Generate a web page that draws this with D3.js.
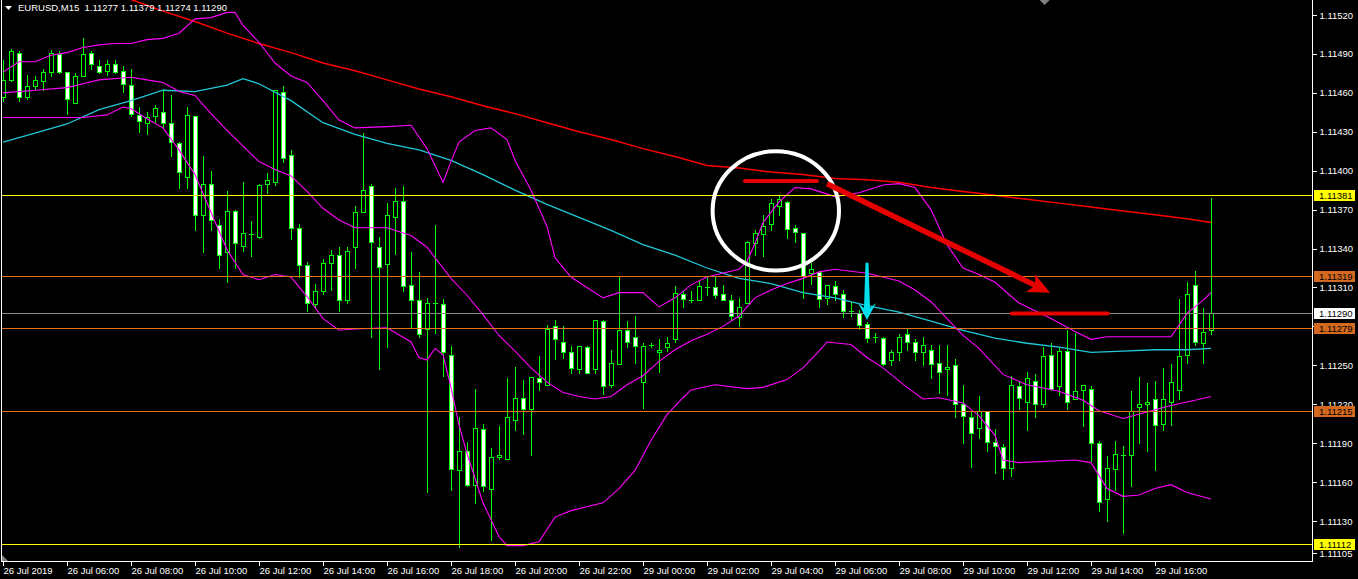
<!DOCTYPE html>
<html><head><meta charset="utf-8">
<script src="https://cdn.jsdelivr.net/npm/d3@7"></script>
<style>
html,body{margin:0;padding:0;background:#000;}
svg{display:block;}
text{font-family:"Liberation Sans",Arial,sans-serif;font-size:9.5px;}
</style></head><body>
<svg id="c" width="1358" height="579"></svg>
<script>
// ---------------- DATA ----------------
const symbolName = "EURUSD,M15";
const opens = [1.11457,1.11470,1.11491,1.11457,1.11465,1.11469,1.11476,1.11490,1.11476,1.11452,
1.11473,1.11491,1.11481,1.11477,1.11482,1.11477,1.11466,1.11443,1.11437,1.11442,
1.11445,1.11437,1.11421,1.11395,1.11442,1.11366,1.11390,1.11358,1.11337,1.11369,
1.11342,1.11351,1.11349,1.11390,1.11391,1.11461,1.11412,1.11356,1.11327,1.11297,
1.11307,1.11329,1.11335,1.11300,1.11341,1.11368,1.11388,1.11341,1.11328,1.11364,
1.11377,1.11312,1.11300,1.11278,1.11298,1.11297,1.11258,1.11169,1.11184,1.11158,
1.11201,1.11155,1.11179,1.11178,1.11208,1.11225,1.11216,1.11240,1.11235,1.11280,
1.11268,1.11260,1.11247,1.11264,1.11247,1.11284,1.11235,1.11251,1.11277,1.11272,
1.11237,1.11266,1.11260,1.11264,1.11270,1.11305,1.11300,1.11300,1.11310,1.11310,
1.11305,1.11300,1.11287,1.11298,1.11344,1.11351,1.11359,1.11373,1.11376,1.11356,
1.11352,1.11321,1.11322,1.11302,1.11311,1.11305,1.11292,1.11290,1.11282,1.11272,
1.11271,1.11254,1.11260,1.11274,1.11268,1.11260,1.11262,1.11252,1.11247,1.11250,
1.11220,1.11210,1.11202,1.11215,1.11191,1.11187,1.11171,1.11234,1.11222,1.11238,
1.11220,1.11258,1.11234,1.11261,1.11224,1.11231,1.11232,1.11190,1.11147,1.11170,
1.11181,1.11181,1.11218,1.11220,1.11224,1.11205,1.11222,1.11231,1.11258,1.11312,
1.11267,1.11277];
const highs = [1.11485,1.11494,1.11492,1.11474,1.11473,1.11478,1.11493,1.11492,1.11476,1.11475,
1.11502,1.11492,1.11485,1.11485,1.11485,1.11481,1.11478,1.11449,1.11445,1.11451,
1.11463,1.11458,1.11422,1.11449,1.11442,1.11411,1.11400,1.11363,1.11384,1.11370,
1.11391,1.11361,1.11390,1.11398,1.11462,1.11465,1.11416,1.11359,1.11330,1.11313,
1.11332,1.11339,1.11341,1.11341,1.11373,1.11429,1.11390,1.11349,1.11375,1.11387,
1.11388,1.11337,1.11322,1.11302,1.11358,1.11301,1.11265,1.11210,1.11191,1.11232,
1.11205,1.11186,1.11203,1.11240,1.11249,1.11239,1.11241,1.11257,1.11281,1.11285,
1.11280,1.11265,1.11265,1.11265,1.11285,1.11285,1.11262,1.11318,1.11284,1.11288,
1.11267,1.11267,1.11270,1.11272,1.11311,1.11307,1.11307,1.11315,1.11318,1.11318,
1.11312,1.11304,1.11302,1.11346,1.11354,1.11366,1.11378,1.11381,1.11377,1.11358,
1.11352,1.11329,1.11323,1.11312,1.11315,1.11308,1.11299,1.11293,1.11283,1.11275,
1.11272,1.11262,1.11274,1.11278,1.11270,1.11272,1.11266,1.11266,1.11266,1.11255,
1.11235,1.11215,1.11226,1.11215,1.11201,1.11189,1.11242,1.11238,1.11245,1.11243,
1.11264,1.11267,1.11264,1.11277,1.11275,1.11235,1.11234,1.11192,1.11180,1.11192,
1.11188,1.11230,1.11241,1.11236,1.11238,1.11248,1.11251,1.11301,1.11314,1.11323,
1.11294,1.11379];
const lows = [1.11454,1.11469,1.11454,1.11455,1.11463,1.11462,1.11473,1.11475,1.11444,1.11452,
1.11473,1.11478,1.11475,1.11474,1.11475,1.11461,1.11442,1.11430,1.11428,1.11437,
1.11434,1.11411,1.11387,1.11387,1.11354,1.11337,1.11354,1.11325,1.11314,1.11325,
1.11338,1.11334,1.11348,1.11383,1.11389,1.11407,1.11347,1.11318,1.11292,1.11294,
1.11305,1.11308,1.11292,1.11298,1.11325,1.11368,1.11272,1.11247,1.11264,1.11336,
1.11307,1.11279,1.11272,1.11152,1.11275,1.11242,1.11154,1.11110,1.11157,1.11144,
1.11153,1.11115,1.11178,1.11178,1.11200,1.11197,1.11181,1.11231,1.11235,1.11255,
1.11256,1.11244,1.11244,1.11244,1.11244,1.11228,1.11233,1.11251,1.11264,1.11252,
1.11217,1.11264,1.11245,1.11261,1.11268,1.11295,1.11299,1.11300,1.11304,1.11302,
1.11300,1.11285,1.11280,1.11298,1.11335,1.11334,1.11354,1.11366,1.11348,1.11345,
1.11302,1.11313,1.11295,1.11297,1.11300,1.11287,1.11288,1.11278,1.11268,1.11268,
1.11250,1.11250,1.11254,1.11262,1.11254,1.11250,1.11240,1.11229,1.11227,1.11210,
1.11190,1.11172,1.11194,1.11184,1.11167,1.11162,1.11165,1.11216,1.11200,1.11210,
1.11218,1.11231,1.11227,1.11216,1.11224,1.11203,1.11176,1.11138,1.11130,1.11154,
1.11121,1.11157,1.11190,1.11184,1.11169,1.11200,1.11204,1.11224,1.11252,1.11266,
1.11252,1.11274];
const closes = [1.11470,1.11492,1.11457,1.11465,1.11470,1.11476,1.11491,1.11476,1.11455,1.11473,
1.11490,1.11482,1.11476,1.11482,1.11476,1.11467,1.11444,1.11438,1.11441,1.11448,
1.11437,1.11422,1.11399,1.11443,1.11366,1.11390,1.11362,1.11335,1.11369,1.11344,
1.11352,1.11351,1.11389,1.11393,1.11462,1.11410,1.11356,1.11327,1.11298,1.11307,
1.11329,1.11335,1.11300,1.11338,1.11368,1.11385,1.11345,1.11326,1.11366,1.11377,
1.11311,1.11300,1.11274,1.11298,1.11298,1.11260,1.11170,1.11184,1.11158,1.11202,
1.11157,1.11179,1.11181,1.11210,1.11225,1.11216,1.11241,1.11237,1.11278,1.11270,
1.11260,1.11248,1.11265,1.11244,1.11285,1.11234,1.11252,1.11277,1.11268,1.11265,
1.11265,1.11266,1.11262,1.11267,1.11306,1.11301,1.11300,1.11311,1.11310,1.11304,
1.11300,1.11288,1.11295,1.11345,1.11352,1.11357,1.11375,1.11378,1.11355,1.11353,
1.11319,1.11324,1.11301,1.11312,1.11305,1.11292,1.11292,1.11281,1.11271,1.11272,
1.11251,1.11260,1.11272,1.11268,1.11260,1.11266,1.11251,1.11245,1.11249,1.11220,
1.11211,1.11198,1.11215,1.11191,1.11188,1.11171,1.11235,1.11225,1.11240,1.11220,
1.11257,1.11232,1.11261,1.11222,1.11230,1.11235,1.11190,1.11145,1.11171,1.11182,
1.11181,1.11215,1.11220,1.11222,1.11204,1.11224,1.11237,1.11257,1.11305,1.11268,
1.11276,1.11290];

const timeTickIdx = [0,8,16,24,32,40,48,56,64,72,80,88,96,104,112,120,128,136,144];
const timeTickLabels = ["26 Jul 2019","26 Jul 06:00","26 Jul 08:00","26 Jul 10:00","26 Jul 12:00",
"26 Jul 14:00","26 Jul 16:00","26 Jul 18:00","26 Jul 20:00","26 Jul 22:00","29 Jul 00:00",
"29 Jul 02:00","29 Jul 04:00","29 Jul 06:00","29 Jul 08:00","29 Jul 10:00","29 Jul 12:00",
"29 Jul 14:00","29 Jul 16:00"];
const priceTicks = [1.11520,1.11490,1.11460,1.11430,1.11400,1.11370,1.11340,1.11310,1.11280,
1.11250,1.11220,1.11190,1.11160,1.11130,1.11105];

// indicator lines: [bar index, price]
const maSlow = [[12,1.11541],[16,1.11532],[20,1.11523],[24,1.11515],[28,1.11506],[32,1.11498],[36,1.11491],
[40,1.11483],[44,1.11477],[48,1.11470],[52,1.11463],[56,1.11457],[60,1.11450],[64,1.11444],[68,1.11437],
[72,1.11430],[76,1.11424],[80,1.11417],[84,1.11411],[88,1.11404],[92,1.11402],[96,1.11399],[100,1.11397],
[104,1.11394],[108,1.11393],[112,1.11391],[116,1.11387],[120,1.11384],[124,1.11381],[128,1.11378],
[132,1.11375],[136,1.11372],[140,1.11369],[144,1.11366],[148,1.11363],[151,1.11360]];
const maMid = [[0,1.11422],[4,1.11429],[8,1.11436],[12,1.11447],[16,1.11454],[20,1.11462],[24,1.11461],
[28,1.11466],[30,1.11471],[32,1.11467],[36,1.11454],[40,1.11437],[44,1.11428],[48,1.11421],[52,1.11416],
[56,1.11408],[60,1.11397],[64,1.11385],[68,1.11374],[72,1.11364],[76,1.11354],[80,1.11343],[84,1.11335],
[88,1.11325],[92,1.11317],[96,1.11313],[100,1.11306],[104,1.11302],[108,1.11296],[112,1.11291],
[116,1.11284],[120,1.11277],[124,1.11271],[128,1.11267],[132,1.11264],[136,1.11260],[140,1.11261],
[144,1.11262],[148,1.11262],[151,1.11263]];
const bbUpper = [[0,1.11476],[2,1.11484],[4,1.11484],[6,1.11489],[8,1.11491],[10,1.11495],[12,1.11497],
[14,1.11498],[16,1.11498],[18,1.11501],[20,1.11502],[22,1.11506],[24,1.11517],[26,1.11518],[28,1.11522],
[29,1.11522],[30,1.11512],[32,1.11499],[34,1.11483],[36,1.11473],[38,1.11468],[40,1.11454],[42,1.11439],
[44,1.11433],[48,1.11434],[51,1.11435],[53,1.11417],[55,1.11391],[56,1.11407],[57,1.11422],[59,1.11431],
[61,1.11433],[63,1.11424],[64,1.11408],[66,1.11385],[68,1.11357],[69,1.11333],[71,1.11318],[73,1.11310],
[75,1.11302],[77,1.11306],[80,1.11306],[82,1.11295],[84,1.11302],[86,1.11312],[88,1.11318],[92,1.11324],
[93,1.11330],[94,1.11344],[95,1.11360],[97,1.11376],[99,1.11387],[101,1.11386],[104,1.11380],[107,1.11383],
[110,1.11389],[112,1.11390],[114,1.11387],[116,1.11370],[118,1.11343],[120,1.11325],[122,1.11320],
[124,1.11314],[127,1.11298],[131,1.11286],[134,1.11276],[136,1.11270],[138,1.11272],[142,1.11272],
[146,1.11272],[148,1.11290],[150,1.11300],[151,1.11306]];
const bbMiddle = [[0,1.11460],[4,1.11462],[8,1.11464],[10,1.11467],[12,1.11470],[16,1.11472],[18,1.11470],
[20,1.11468],[22,1.11461],[24,1.11458],[26,1.11444],[28,1.11431],[30,1.11419],[32,1.11407],[34,1.11401],
[36,1.11396],[38,1.11384],[40,1.11371],[42,1.11362],[44,1.11356],[48,1.11356],[51,1.11350],[53,1.11341],
[56,1.11317],[58,1.11304],[60,1.11289],[62,1.11273],[64,1.11261],[66,1.11248],[68,1.11237],[70,1.11229],
[72,1.11226],[74,1.11224],[76,1.11226],[78,1.11235],[80,1.11242],[82,1.11253],[84,1.11262],[86,1.11269],
[88,1.11274],[90,1.11280],[92,1.11288],[94,1.11302],[96,1.11308],[98,1.11313],[100,1.11317],[102,1.11322],
[104,1.11324],[108,1.11321],[112,1.11315],[114,1.11308],[116,1.11299],[118,1.11286],[120,1.11273],
[122,1.11263],[125,1.11243],[128,1.11235],[132,1.11230],[135,1.11223],[137,1.11215],[140,1.11209],
[143,1.11214],[146,1.11219],[149,1.11223],[151,1.11226]];
const bbLower = [[0,1.11441],[2,1.11441],[6,1.11441],[10,1.11441],[13,1.11443],[15,1.11449],[16,1.11448],
[18,1.11440],[20,1.11433],[22,1.11416],[24,1.11397],[26,1.11368],[28,1.11339],[30,1.11320],[32,1.11316],
[34,1.11320],[36,1.11318],[38,1.11303],[40,1.11286],[42,1.11277],[44,1.11278],[48,1.11279],[51,1.11268],
[52,1.11256],[53,1.11254],[54,1.11263],[55,1.11258],[56,1.11233],[57,1.11204],[58,1.11182],[60,1.11144],
[62,1.11118],[63,1.11111],[65,1.11111],[67,1.11114],[69,1.11133],[71,1.11138],[75,1.11144],[77,1.11155],
[79,1.11169],[81,1.11192],[83,1.11212],[85,1.11225],[86,1.11231],[89,1.11235],[93,1.11232],[95,1.11233],
[98,1.11239],[100,1.11248],[102,1.11261],[103,1.11268],[106,1.11266],[108,1.11256],[110,1.11248],
[113,1.11233],[115,1.11224],[117,1.11225],[120,1.11221],[122,1.11211],[124,1.11196],[125,1.11177],
[127,1.11175],[134,1.11177],[136,1.11175],[138,1.11155],[140,1.11149],[142,1.11150],[144,1.11155],
[146,1.11158],[148,1.11152],[151,1.11147]];

// horizontal price levels
const levelPrices = [1.11381,1.11319,1.11290,1.11279,1.11215,1.11112];
const levelKinds  = ["yellow","orange","bid","orange","orange","yellow"];

// hand-drawn annotations (bar index, price)
const markCircle = [96.6, 1.11369, 7.9, 0.00046];      // centre i, centre price, radius in bars, radius in price
const markLevels = [[92.75,101.75,1.11392],[126.1,138.1,1.11290]];
const markRedArrow = [[103,1.11390],[130.9,1.11306]];
const markCyanArrow = [[108,1.11329],[108,1.11285]];

// ---------------- DRAW ----------------
const W = 1358, H = 579;
const plotRight = 1312, plotBottom = 561;
const FONT = "Liberation Sans, Arial, sans-serif";
const svg = d3.select("#c");
svg.append("rect").attr("width",W).attr("height",H).attr("fill","#000");

const n = opens.length;
const x = d3.scaleLinear().domain([0, n-1]).range([3, 3 + 8*(n-1)]);
const y = d3.scaleLinear().domain([1.11130, 1.11520]).range([521, 15]);

svg.append("defs").append("clipPath").attr("id","plot")
  .append("rect").attr("x",2).attr("y",0).attr("width",plotRight-2).attr("height",plotBottom);

const plot = svg.append("g").attr("clip-path","url(#plot)");

// candles
const GREEN = "#00ff00";
const cg = plot.append("g").attr("shape-rendering","crispEdges");
d3.range(n).forEach(i => {
  const cx = Math.round(x(i));
  const o = opens[i], c = closes[i];
  cg.append("line").attr("x1",cx+0.5).attr("x2",cx+0.5)
    .attr("y1",Math.round(y(highs[i]))).attr("y2",Math.round(y(lows[i]))+1)
    .attr("stroke",GREEN).attr("stroke-width",1);
  const top = Math.round(y(Math.max(o,c))), bot = Math.round(y(Math.min(o,c)));
  if (bot - top < 1) {
    cg.append("line").attr("x1",cx-2).attr("x2",cx+3).attr("y1",top+0.5).attr("y2",top+0.5)
      .attr("stroke",GREEN).attr("stroke-width",1);
  } else {
    cg.append("rect").attr("x",cx-1.5).attr("y",top+0.5).attr("width",4).attr("height",bot-top)
      .attr("fill", c < o ? "#ffffff" : "#000000").attr("stroke",GREEN).attr("stroke-width",1);
  }
});

// indicators
const line = d3.line().x(d => x(d[0])).y(d => y(d[1]));
const ind = plot.append("g").attr("fill","none");
ind.append("path").datum(maMid).attr("d",line).attr("stroke","#20c8d8").attr("stroke-width",1.3);
ind.append("path").datum(maSlow).attr("d",line).attr("stroke","#ff0000").attr("stroke-width",1.5);
[bbUpper,bbMiddle,bbLower].forEach(s =>
  ind.append("path").datum(s).attr("d",line).attr("stroke","#ff00ff").attr("stroke-width",1.1));

// level lines
const levelColor = {yellow:"#ffff00", orange:"#e8701c", bid:"#8c8c8c"};
const lv = plot.append("g").attr("shape-rendering","crispEdges");
levelPrices.forEach((p,k) => {
  const yy = Math.round(y(p)) + 0.5;
  lv.append("line").attr("x1",0).attr("x2",plotRight).attr("y1",yy).attr("y2",yy)
    .attr("stroke",levelColor[levelKinds[k]]).attr("stroke-width",1);
});

// annotations
const ann = plot.append("g");
ann.append("ellipse")
  .attr("cx", x(markCircle[0])).attr("cy", y(markCircle[1]))
  .attr("rx", x(markCircle[0]+markCircle[2]) - x(markCircle[0]))
  .attr("ry", y(markCircle[1]-markCircle[3]) - y(markCircle[1]))
  .attr("fill","none").attr("stroke","#ffffff").attr("stroke-width",4);
const RED = "#e60000";
markLevels.forEach(m => {
  ann.append("line").attr("x1",x(m[0])).attr("x2",x(m[1])).attr("y1",y(m[2])).attr("y2",y(m[2]))
    .attr("stroke",RED).attr("stroke-width",4).attr("stroke-linecap","round");
});
{
  const ax = x(markRedArrow[0][0]), ay = y(markRedArrow[0][1]);
  const bx = x(markRedArrow[1][0]), by = y(markRedArrow[1][1]);
  const len = Math.hypot(bx-ax, by-ay), ux = (bx-ax)/len, uy = (by-ay)/len, px = -uy, py = ux;
  const headL = 22, headW = 10;
  ann.append("line").attr("x1",ax).attr("y1",ay).attr("x2",bx-ux*headL*0.7).attr("y2",by-uy*headL*0.7)
    .attr("stroke",RED).attr("stroke-width",5.5);
  ann.append("polygon").attr("fill",RED).attr("points",[
    [bx,by],[bx-ux*headL+px*headW,by-uy*headL+py*headW],[bx-ux*headL*0.75,by-uy*headL*0.75],
    [bx-ux*headL-px*headW,by-uy*headL-py*headW]].map(p=>p.join(",")).join(" "));
}
{
  const tx = x(markCyanArrow[0][0]), ty = y(markCyanArrow[0][1]);
  const bx = x(markCyanArrow[1][0]), by = y(markCyanArrow[1][1]);
  const headL = 17, headW = 9;
  const baseY = by - headL;
  ann.append("polygon").attr("fill","#00dfee").attr("points",[
    [tx-1.5,ty],[tx+1.5,ty],[bx+3,baseY+5],[bx+headW,baseY],[bx,by],[bx-headW,baseY],[bx-3,baseY+5]
  ].map(p=>p.join(",")).join(" "));
}

// frame
const fr = svg.append("g").attr("stroke","#ffffff").attr("stroke-width",1).attr("shape-rendering","crispEdges");
fr.append("line").attr("x1",1.5).attr("x2",1.5).attr("y1",0).attr("y2",plotBottom+1);
fr.append("line").attr("x1",plotRight+0.5).attr("x2",plotRight+0.5).attr("y1",0).attr("y2",plotBottom+1);
fr.append("line").attr("x1",1).attr("x2",plotRight+1).attr("y1",plotBottom+0.5).attr("y2",plotBottom+0.5);

// right price axis
const ya = svg.append("g").attr("transform",`translate(${plotRight+0.5},0)`)
  .call(d3.axisRight(y).tickValues(priceTicks).tickSize(4).tickPadding(3).tickFormat(d3.format(".5f")));
ya.select(".domain").remove();
ya.selectAll(".tick line").attr("stroke","#ffffff").attr("shape-rendering","crispEdges");
ya.selectAll(".tick text").attr("fill","#ffffff").style("font-family",FONT).style("font-size","9.5px");

// bottom time axis
const xa = svg.append("g").attr("transform",`translate(0,${plotBottom+0.5})`)
  .call(d3.axisBottom(x).tickValues(timeTickIdx).tickSize(4).tickPadding(2)
    .tickFormat((d,i) => timeTickLabels[i]));
xa.select(".domain").remove();
xa.selectAll(".tick line").attr("stroke","#ffffff").attr("shape-rendering","crispEdges");
xa.selectAll(".tick text").attr("fill","#ffffff").attr("text-anchor","start").attr("x",0)
  .style("font-family",FONT).style("font-size","9.5px");

// price level labels
const labelFill = {yellow:"#ffff00", orange:"#d2691e", bid:"#ffffff"};
const lb = svg.append("g");
levelPrices.forEach((p,k) => {
  const yy = Math.round(y(p));
  lb.append("rect").attr("x",plotRight+2).attr("y",yy-5).attr("width",41).attr("height",11)
    .attr("fill",labelFill[levelKinds[k]]);
  lb.append("text").attr("x",plotRight+7).attr("y",yy+4).attr("fill","#000").text(d3.format(".5f")(p));
});

// title
svg.append("polygon").attr("points","5,6 12,6 8.5,10").attr("fill","#ffffff");
const last = n-1;
svg.append("text").attr("x",18).attr("y",11).attr("fill","#ffffff").attr("xml:space","preserve")
  .style("white-space","pre")
  .text(`${symbolName}  ${d3.format(".5f")(opens[last])} ${d3.format(".5f")(highs[last])} ${d3.format(".5f")(lows[last])} ${d3.format(".5f")(closes[last])}`);

// chart shift marker and corner marker
svg.append("polygon").attr("points",`${x(130.2)-5},0 ${x(130.2)+5},0 ${x(130.2)},5`).attr("fill","#808080");
svg.append("polygon").attr("points",`2,${plotBottom-6} 2,${plotBottom} 8,${plotBottom}`).attr("fill","#808080");
</script>
</body></html>
